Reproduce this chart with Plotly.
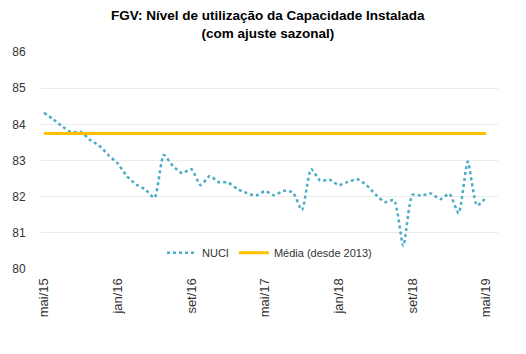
import plotly.graph_objects as go

months_pt = ["jan", "fev", "mar", "abr", "mai", "jun", "jul", "ago", "set", "out", "nov", "dez"]
# Monthly categories mai/15 .. mai/19
categories = []
for k in range(49):
    m = (4 + k) % 12
    yr = 15 + (4 + k) // 12
    categories.append(f"{months_pt[m]}/{yr}")

nuci = [84.32, 84.14, 83.94, 83.78, 83.79, 83.57, 83.41, 83.15, 82.92, 82.57,
        82.34, 82.20, 81.97, 83.15, 82.85, 82.65, 82.76, 82.32, 82.57, 82.40,
        82.39, 82.21, 82.10, 82.03, 82.15, 82.04, 82.16, 82.12, 81.63, 82.76,
        82.44, 82.47, 82.32, 82.41, 82.48, 82.32, 82.06, 81.85, 81.90, 80.64,
        82.05, 82.03, 82.09, 81.93, 82.08, 81.54, 82.97, 81.76, 81.98]
media_value = 83.75
media = [media_value] * len(categories)

tick_labels = ["mai/15", "jan/16", "set/16", "mai/17", "jan/18", "set/18", "mai/19"]
y_ticks = [80, 81, 82, 83, 84, 85, 86]

FONT = "Liberation Sans, Arial, sans-serif"

fig = go.Figure()
fig.add_trace(go.Scatter(
    x=categories, y=nuci, name="NUCI", mode="lines",
    line=dict(color="#4bacc6", width=2.5, dash="dot", shape="spline", smoothing=0.6),
))
fig.add_trace(go.Scatter(
    x=categories, y=media, name="Média (desde 2013)", mode="lines",
    line=dict(color="#ffc000", width=3),
))

fig.add_annotation(
    text="<b>FGV: Nível de utilização da Capacidade Instalada<br>(com ajuste sazonal)</b>",
    xref="paper", yref="paper", x=0.496, y=1.21, xanchor="center", yanchor="top",
    showarrow=False, align="center",
    font=dict(family=FONT, size=13.5, color="#000000"),
)

fig.update_layout(
    width=526, height=354,
    margin=dict(l=33, r=28, t=52, b=85),
    paper_bgcolor="white", plot_bgcolor="white",
    font=dict(family=FONT, size=12, color="#333333"),
    showlegend=True,
    legend=dict(
        orientation="h", x=0.5, xanchor="center", y=0.075, yanchor="middle",
        bgcolor="rgba(0,0,0,0)", font=dict(family=FONT, size=11, color="#333333"),
        itemwidth=30, traceorder="normal",
    ),
    xaxis=dict(
        type="category", range=[-0.32, 49.28],
        tickmode="array", tickvals=tick_labels, ticktext=tick_labels,
        tickangle=-90, showgrid=False, zeroline=False,
        showline=False, ticks="outside", ticklen=3, tickcolor="rgba(0,0,0,0)",
        tickfont=dict(family=FONT, size=13, color="#333333"),
    ),
    yaxis=dict(
        range=[80, 86], tickmode="array", tickvals=y_ticks,
        showgrid=True, gridcolor="#ebebeb", gridwidth=1, zeroline=False,
        showline=False, ticks="outside", ticklen=12, tickcolor="rgba(0,0,0,0)",
        tickfont=dict(family=FONT, size=12, color="#333333"),
    ),
)

fig.write_html("out.html")
